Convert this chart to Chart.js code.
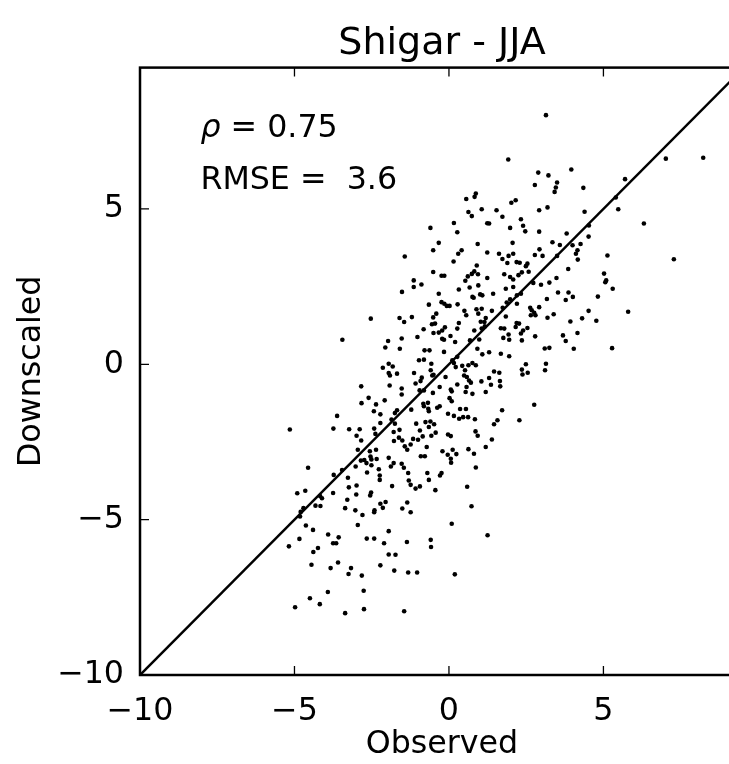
<!DOCTYPE html>
<html>
<head>
<meta charset="utf-8">
<script src="https://cdn.jsdelivr.net/npm/chart.js@4.4.1/dist/chart.umd.min.js"></script>
<style>
  html, body { margin: 0; padding: 0; background: #fff; overflow: hidden; }
  canvas { display: block; }
</style>
</head>
<body>
<canvas id="myChart" width="760" height="764" style="width:760px;height:764px"></canvas>
<script>
// chart text and axis setup
const chartTitle = "Shigar - JJA";
const xLabel = "Observed";
const yLabel = "Downscaled";
const tickValues = [-10, -5, 0, 5];
const axisMin = -10;
const axisMax = 9.55;
const rho = 0.75;
const rmse = 3.6;
const oneToOne = [-10, 10];

// [observed, downscaled] pairs
const points = [
  [-2.84,-0.71],[-2.60,-1.08],[-2.83,-1.25],[-2.36,-1.29],[-3.62,-1.66],[-2.43,-1.51],[-5.15,-2.10],[-3.74,-2.07],
  [-3.23,-2.09],[-2.89,-2.09],[-2.42,-2.07],[-2.38,-2.24],[-2.99,-2.30],[-2.84,-2.45],[-2.95,-2.75],[-2.56,-2.80],
  [-2.36,-2.75],[-2.54,-2.97],[-2.51,-3.06],[-2.74,-3.08],[-2.34,-3.05],[-2.85,-3.10],[-2.67,-3.18],[-3.02,-3.29],
  [-2.51,-3.25],[-4.56,-3.33],[-3.46,-3.40],[-2.65,-3.48],[-3.73,-3.56],[-3.27,-3.65],[-2.99,-3.90],[-3.24,-3.96],
  [-4.65,-4.07],[-4.91,-4.15],[-3.75,-4.14],[-2.52,-4.13],[-2.55,-4.22],[-4.17,-4.24],[-4.11,-4.31],[-3.00,-4.19],
  [-3.29,-4.36],[-2.41,-4.70],[-2.42,-4.76],[-4.71,-4.63],[-4.80,-4.75],[-4.82,-4.90],[-4.32,-4.55],[-4.16,-4.56],
  [-3.36,-4.63],[-3.03,-4.70],[-2.80,-4.85],[-4.63,-5.19],[-4.40,-5.33],[-2.95,-5.17],[-5.18,-5.86],[-4.84,-5.62],
  [-3.91,-5.48],[-3.57,-5.57],[-3.75,-5.76],[-3.65,-5.76],[-2.66,-5.61],[-2.42,-5.61],[-4.39,-6.04],[-4.24,-5.91],
  [-4.45,-6.45],[-3.83,-6.56],[-3.59,-6.38],[-3.25,-6.75],[-3.17,-6.56],[-2.82,-6.80],[-3.92,-7.33],[-4.50,-7.53],
  [-4.18,-7.72],[-2.76,-7.29],[-4.98,-7.82],[-3.36,-8.01],[-2.75,-7.88],[-1.45,-7.95],
  [-1.95,0.02],[-1.82,-0.07],[-2.14,-0.11],[-1.95,-0.28],[-1.91,-0.36],[-1.68,-0.30],[-1.92,-0.68],[-1.53,-0.78],
  [-1.53,-0.97],[-2.08,-1.16],[-1.75,-1.57],[-1.68,-1.48],[-2.22,-1.61],[-2.22,-1.89],[-1.86,-1.78],[-1.75,-1.91],
  [-1.60,-2.11],[-1.79,-2.18],[-1.62,-2.36],[-1.78,-2.47],[-1.51,-2.45],[-1.43,-2.64],[-1.35,-2.75],[-1.24,-2.58],
  [-2.27,-3.38],[-2.24,-3.58],[-2.24,-3.72],[-1.95,-3.01],[-1.88,-3.29],[-1.79,-3.18],[-1.53,-3.20],[-1.46,-3.33],
  [-1.32,-3.50],[-1.30,-3.74],[-1.24,-3.88],[-1.08,-4.00],[-0.94,-3.93],[-1.84,-3.92],[-2.22,-4.49],[-2.05,-4.43],
  [-2.14,-4.62],[-1.51,-4.64],[-1.35,-4.45],[-1.24,-4.76],[-1.95,-5.37],[-2.10,-5.76],[-1.36,-5.72],[-1.95,-6.12],
  [-1.73,-6.13],[-2.22,-6.47],[-1.77,-6.64],[-1.32,-6.70],[-1.03,-6.70],[0.19,-6.76],[-0.59,-5.65],[-0.58,-5.88],
  [0.09,-5.13],[1.25,-5.50],[0.73,-4.57],[0.59,-3.94],[-0.44,-4.05],[-0.65,-3.72],[-0.70,-3.50],[-0.29,-3.58],
  [-0.24,-3.50],[-0.21,-2.80],[-0.04,-2.91],[0.06,-3.04],[0.07,-3.17],[0.24,-2.89],[0.12,-2.75],[0.63,-2.73],
  [0.81,-2.88],[0.87,-3.32],[1.19,-2.66],[1.39,-2.42],[1.46,-1.93],[1.57,-1.80],[1.72,-1.48],[2.28,-1.80],
  [2.76,-1.30],[0.86,-2.16],[0.93,-2.30],[0.84,-1.77],[0.62,-1.70],[0.46,-1.70],[0.33,-1.75],[0.16,-1.66],
  [-0.03,-1.59],[0.36,-1.44],[0.55,-1.44],[-0.03,-2.26],[0.06,-2.31],[-0.43,-2.20],[-0.57,-2.30],[-0.48,-1.93],
  [-0.65,-2.02],[-0.76,-1.86],[-0.60,-1.84],[-0.94,-2.13],[-0.85,-2.32],[-1.06,-1.91],[-1.16,-2.40],[-1.00,-2.43],
  [-0.72,-2.66],[-0.91,-2.96],[-0.78,-2.96],[-1.22,-1.46],[-0.67,-1.43],[-0.65,-1.51],[-0.81,-1.35],[-0.68,-1.24],
  [-0.83,-1.27],[-0.30,-1.35],[-0.38,-1.40],[-0.52,-0.92],[-0.30,-0.73],[-0.11,-0.41],[0.06,-0.81],[0.09,-0.87],
  [0.02,-1.09],[0.09,-1.19],[0.27,-0.65],[0.54,-0.89],[0.76,-0.95],[0.57,-0.73],[0.71,-0.59],[0.65,-0.52],
  [0.49,-0.36],[0.52,-0.19],[0.58,-0.41],[0.63,-0.03],[0.76,0.04],[0.87,-0.03],[0.43,-0.05],[0.22,-0.09],
  [0.16,0.04],[0.11,0.13],[-0.54,-0.36],[-0.59,-0.19],[-0.81,0.15],[-0.97,0.13],[-1.13,-0.28],[-0.88,-0.43],
  [-0.92,-0.54],[-1.08,-0.62],[-0.95,-0.84],[-0.81,-0.84],[-0.57,0.02],[-0.50,-0.34],[1.05,-0.55],[1.30,-0.44],
  [1.36,-0.66],[1.46,-0.23],[1.63,-0.27],[1.65,-0.54],[1.66,-0.71],[1.19,-0.89],[2.49,0.00],[2.36,-0.17],
  [2.38,-0.33],[2.55,-0.27],[3.14,0.02],[3.11,-0.19],[1.95,0.26],[1.30,0.39],[1.08,0.32],[1.68,0.34],
  [-0.16,0.40],[0.27,0.24],
  [3.14,8.02],[1.92,6.59],[7.02,6.62],[8.23,6.65],[2.89,6.17],[3.22,6.08],[3.96,6.27],[5.70,5.96],
  [3.50,5.85],[3.46,5.69],[3.42,5.55],[4.35,5.68],[2.78,5.77],[0.56,5.32],[0.83,5.39],[0.87,5.50],
  [2.02,5.20],[2.16,5.28],[1.06,4.99],[1.54,4.96],[0.63,4.90],[0.74,4.77],[2.92,4.96],[3.19,5.05],
  [4.39,4.91],[5.48,4.99],[5.40,5.37],[1.73,4.75],[0.16,4.55],[1.24,4.54],[1.30,4.53],[2.33,4.67],
  [2.40,4.46],[2.47,4.28],[1.98,4.39],[0.27,4.25],[2.92,4.27],[6.31,4.53],[3.81,4.21],[4.53,4.47],
  [4.52,4.11],[-0.33,3.91],[0.93,3.87],[2.06,3.91],[3.35,3.93],[3.59,3.84],[4.00,3.83],[4.26,3.87],
  [0.41,3.67],[0.30,3.56],[1.24,3.60],[1.62,3.56],[1.93,3.49],[2.08,3.56],[1.73,3.39],[1.89,3.26],
  [2.19,3.29],[2.29,3.27],[2.49,3.16],[2.54,3.24],[2.78,3.52],[2.93,3.70],[3.03,3.49],[3.50,3.49],
  [4.16,3.67],[4.11,3.56],[4.17,3.37],[5.13,3.50],[7.28,3.38],[0.15,3.31],[0.90,3.18],[0.82,2.99],
  [0.74,2.91],[0.61,2.83],[0.53,2.69],[0.94,2.90],[0.95,2.54],[1.24,2.78],[-0.24,2.85],[-0.15,2.85],
  [-0.33,2.27],[0.32,2.41],[0.67,2.47],[0.76,2.17],[0.80,2.14],[1.01,2.25],[1.08,2.22],[1.43,2.27],
  [1.79,2.90],[1.98,2.81],[2.08,2.73],[2.25,2.87],[2.36,2.96],[2.58,2.98],[1.84,2.43],[2.08,2.49],
  [1.98,2.09],[2.20,2.22],[2.33,2.27],[2.20,1.95],[2.73,2.62],[2.98,2.56],[3.17,2.10],[3.25,2.63],
  [3.48,2.78],[3.53,2.31],[3.78,2.07],[3.87,2.31],[3.86,3.07],[4.01,2.17],[5.02,2.92],[5.06,2.64],
  [5.09,2.70],[5.30,2.43],[4.82,2.18],[5.80,1.69],[4.52,1.72],[4.77,1.40],[4.31,1.48],[3.93,1.38],
  [4.16,1.01],[3.69,0.93],[3.78,0.75],[3.19,1.50],[3.39,1.61],[2.92,1.84],[2.63,1.82],[2.68,1.74],
  [2.76,1.66],[2.80,1.58],[2.65,1.58],[2.54,1.17],[2.79,0.90],[2.40,1.09],[2.27,1.31],[2.33,0.99],
  [2.36,0.77],[2.19,1.33],[2.16,1.20],[1.93,0.96],[1.95,0.79],[1.76,0.85],[1.79,1.15],[1.68,1.16],
  [1.84,1.54],[1.74,1.82],[1.87,1.99],[1.39,1.72],[1.19,1.49],[1.15,1.36],[1.16,1.22],[1.06,1.15],
  [0.82,1.09],[0.98,0.80],[0.92,0.50],[0.68,0.77],[0.32,1.33],[0.27,1.15],[-0.13,1.19],[-0.22,1.09],
  [0.05,0.91],[-0.16,0.79],[0.20,0.72],[-0.33,1.02],[-0.22,0.82],[-0.24,2.00],[-0.15,1.95],[-0.07,1.88],
  [0.02,1.88],[0.28,1.93],[0.50,1.72],[0.56,1.58],[0.89,1.77],[0.95,1.63],[1.06,1.79],[1.03,1.37],
  [3.10,0.51],[3.25,0.53],[4.04,0.50],[5.28,0.52],
  [-0.60,4.39],[-1.43,3.47],[-0.51,3.67],[-0.51,2.97],[-1.52,2.33],[-2.53,1.47],[-3.45,0.79],[-1.60,1.49],
  [-1.45,1.36],[-1.20,1.52],[-0.51,1.51],[-0.41,1.63],[-0.65,1.92],[-1.02,0.88],[-0.82,1.13],[-0.50,1.01],
  [-0.45,1.31],[-0.55,1.29],[-1.53,0.83],[-2.06,0.54],[-1.97,0.75],[-1.59,0.50],[-0.79,0.45],[-0.63,0.45],
  [-1.14,2.70],[-0.89,2.57],[-1.14,2.49]
];

const fontFamily = '"DejaVu Sans", "Liberation Sans", sans-serif';
const baseSize = 31.7;

// matplotlib style minus sign on the tick labels
function fmtTick(value) {
  return String(value).replace('-', '\u2212');
}

// box around the axes, inward ticks and the two stats lines
const frameAndText = {
  id: 'frameAndText',
  afterDatasetsDraw(chart) {
    const {ctx, chartArea: a, scales: {x, y}} = chart;
    ctx.save();
    ctx.strokeStyle = '#000';
    ctx.lineWidth = 1.3;
    ctx.beginPath();
    tickValues.forEach(v => {
      const px = x.getPixelForValue(v);
      ctx.moveTo(px, a.bottom); ctx.lineTo(px, a.bottom - 9);
      ctx.moveTo(px, a.top); ctx.lineTo(px, a.top + 9);
      const py = y.getPixelForValue(v);
      ctx.moveTo(a.left, py); ctx.lineTo(a.left + 9, py);
      ctx.moveTo(a.right, py); ctx.lineTo(a.right - 9, py);
    });
    ctx.stroke();
    ctx.lineWidth = 2.5;
    ctx.strokeRect(a.left, a.top, a.width, a.height);

    ctx.fillStyle = '#000';
    ctx.textBaseline = 'alphabetic';
    ctx.textAlign = 'left';
    const tx = a.left + 0.1 * a.width;
    const ty1 = a.top + 0.115 * a.height;
    const ty2 = a.top + 0.2 * a.height;
    ctx.font = 'italic ' + baseSize + 'px ' + fontFamily;
    ctx.fillText('\u03c1', tx, ty1);
    const w = ctx.measureText('\u03c1').width;
    ctx.font = baseSize + 'px ' + fontFamily;
    ctx.fillText(' = ' + rho, tx + w, ty1);
    ctx.fillText('RMSE =  ' + rmse, tx, ty2);
    ctx.restore();
  }
};

const ctx = document.getElementById('myChart').getContext('2d');
new Chart(ctx, {
  type: 'scatter',
  data: {
    datasets: [
      {
        label: 'Downscaled vs observed',
        data: points.map(p => ({x: p[0], y: p[1]})),
        backgroundColor: '#000',
        borderWidth: 0,
        pointRadius: 2.3,
        pointHoverRadius: 2.3
      },
      {
        label: '1:1',
        data: oneToOne.map(v => ({x: v, y: v})),
        showLine: true,
        borderColor: '#000',
        borderWidth: 2.5,
        pointRadius: 0,
        fill: false
      }
    ]
  },
  options: {
    responsive: false,
    devicePixelRatio: 1,
    animation: false,
    layout: { padding: { left: 0, right: 16, top: 0, bottom: 0 } },
    plugins: {
      legend: { display: false },
      tooltip: { enabled: false },
      title: {
        display: true,
        text: chartTitle,
        fullSize: false,
        color: '#000',
        font: { family: fontFamily, size: 38, weight: 'normal' },
        padding: { top: 21, bottom: 1 }
      }
    },
    scales: {
      x: {
        type: 'linear',
        position: 'bottom',
        min: axisMin,
        max: axisMax,
        grid: { display: false },
        border: { display: false },
        ticks: {
          stepSize: 5,
          includeBounds: false,
          autoSkip: false,
          maxRotation: 0,
          padding: 10,
          color: '#000',
          font: { family: fontFamily, size: baseSize },
          callback: fmtTick
        },
        title: {
          display: true,
          text: xLabel,
          color: '#000',
          font: { family: fontFamily, size: baseSize },
          padding: { top: 0, bottom: 0 }
        },
        afterFit(scale) { scale.height = 89; }
      },
      y: {
        type: 'linear',
        position: 'left',
        min: axisMin,
        max: axisMax,
        grid: { display: false },
        border: { display: false },
        ticks: {
          stepSize: 5,
          includeBounds: false,
          autoSkip: false,
          padding: 8,
          color: '#000',
          font: { family: fontFamily, size: baseSize },
          callback: fmtTick
        },
        title: {
          display: true,
          text: yLabel,
          color: '#000',
          font: { family: fontFamily, size: baseSize },
          padding: { top: 13, bottom: 0 }
        },
        afterFit(scale) { scale.width = 140; }
      }
    }
  },
  plugins: [frameAndText]
});
</script>
</body>
</html>
